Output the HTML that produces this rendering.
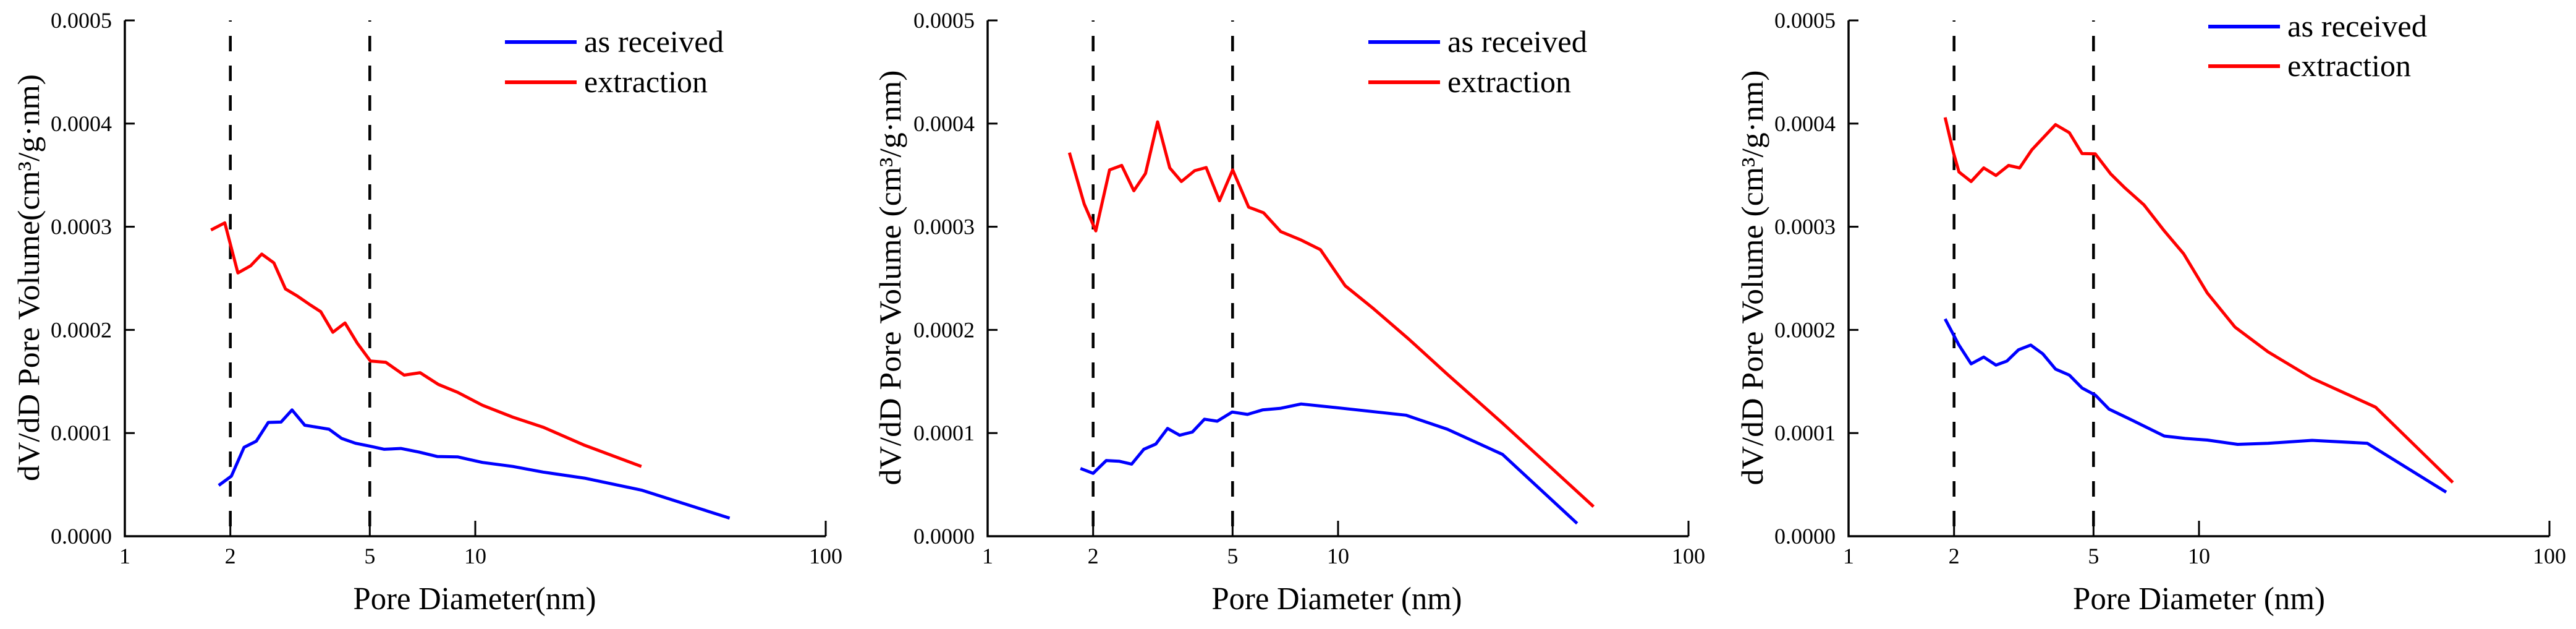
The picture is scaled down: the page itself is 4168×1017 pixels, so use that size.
<!DOCTYPE html>
<html><head><meta charset="utf-8"><style>
html,body{margin:0;padding:0;background:#fff;width:4168px;height:1017px;overflow:hidden}
text{font-family:"Liberation Serif",serif;fill:#000}
</style></head><body>
<svg id="chart" width="4168" height="1017" viewBox="0 0 4168 1017" xmlns="http://www.w3.org/2000/svg"></svg>
<script>
// ---- data (values in units of 1e-4 cm3/g·nm) ----
const p1RedX=[1.761,1.928,2.102,2.286,2.458,2.662,2.873,3.111,3.382,3.623,3.924,4.249,4.603,5.022,5.557,6.265,6.960,7.845,8.905,10.48,12.80,15.62,20.50,29.79];
const p1RedY=[2.968,3.038,2.552,2.622,2.735,2.650,2.397,2.327,2.242,2.176,1.977,2.067,1.873,1.698,1.686,1.562,1.585,1.472,1.395,1.270,1.154,1.057,0.882,0.676];
const p1BlueX=[1.853,2.014,2.189,2.371,2.567,2.791,3.000,3.262,3.532,3.825,4.157,4.552,4.985,5.497,6.131,6.910,7.788,8.905,10.48,12.80,15.62,20.50,29.79,53.2];
const p1BlueY=[0.493,0.583,0.862,0.921,1.103,1.107,1.224,1.076,1.057,1.037,0.948,0.901,0.874,0.843,0.851,0.816,0.773,0.769,0.715,0.676,0.622,0.563,0.447,0.175];
const p2RedX=[1.711,1.886,2.035,2.228,2.413,2.614,2.821,3.055,3.309,3.572,3.896,4.204,4.587,5.004,5.557,6.131,6.859,7.845,8.905,10.48,12.57,15.91,20.50,29.47,53.6];
const p2RedY=[3.718,3.221,2.960,3.551,3.594,3.349,3.516,4.017,3.570,3.438,3.543,3.574,3.252,3.551,3.190,3.135,2.953,2.871,2.778,2.428,2.211,1.911,1.570,1.096,0.287];
const p2BlueX=[1.840,2.000,2.181,2.371,2.576,2.791,3.021,3.262,3.532,3.839,4.157,4.520,4.985,5.516,6.087,6.833,7.845,10.11,15.62,20.50,29.47,48.1];
const p2BlueY=[0.657,0.610,0.734,0.727,0.699,0.843,0.894,1.045,0.979,1.010,1.134,1.115,1.204,1.181,1.224,1.239,1.282,1.243,1.173,1.037,0.793,0.124];
const p3RedX=[1.886,1.992,2.065,2.237,2.431,2.634,2.862,3.077,3.334,3.896,4.265,4.636,5.058,5.598,6.131,6.960,7.960,9.035,10.56,12.66,15.74,21.03,31.91,53.0];
const p3RedY=[4.060,3.718,3.531,3.438,3.570,3.497,3.594,3.570,3.745,3.990,3.912,3.710,3.706,3.512,3.380,3.213,2.960,2.739,2.358,2.028,1.787,1.531,1.251,0.521];
const p3BlueX=[1.886,2.065,2.237,2.431,2.634,2.831,3.055,3.309,3.584,3.896,4.265,4.636,5.058,5.537,6.355,7.960,9.134,10.56,12.89,15.74,21.03,30.22,50.76];
const p3BlueY=[2.106,1.853,1.671,1.737,1.659,1.698,1.807,1.853,1.768,1.620,1.562,1.437,1.368,1.232,1.134,0.971,0.948,0.932,0.890,0.901,0.929,0.901,0.427];
const yTicks=[0,1,2,3,4,5];
const yTickLabels=["0.0000","0.0001","0.0002","0.0003","0.0004","0.0005"];
const xTicks=[1,2,5,10,100];
const xTickLabels=["1","2","5","10","100"];
const dashX=[2,5];
const xTitles=["Pore Diameter(nm)","Pore Diameter (nm)","Pore Diameter (nm)"];
const yTitles=["dV/dD Pore Volume(cm³/g·nm)","dV/dD Pore Volume (cm³/g·nm)","dV/dD Pore Volume (cm³/g·nm)"];
const legendLabels=["as received","extraction"];

const NS="http://www.w3.org/2000/svg";
const svg=document.getElementById('chart');
function mk(tag,attrs,parent){const e=document.createElementNS(NS,tag);for(const k in attrs)e.setAttribute(k,attrs[k]);(parent||svg).appendChild(e);return e;}

const panels=[
 {ax:202,w:1134,ytitleX:46,ytitleLen:658,xtitleX:768,xtitleLen:393,legX:615,legY:[68,133],red:[p1RedX,p1RedY],blue:[p1BlueX,p1BlueY]},
 {ax:1598,w:1134,ytitleX:1440,ytitleLen:671,xtitleX:2163,xtitleLen:405,legX:616,legY:[68,133],red:[p2RedX,p2RedY],blue:[p2BlueX,p2BlueY]},
 {ax:2991,w:1134,ytitleX:2835,ytitleLen:671,xtitleX:3558,xtitleLen:408,legX:582,legY:[43,107],red:[p3RedX,p3RedY],blue:[p3BlueX,p3BlueY]}
];
const Y0=867, YTOP=33;
panels.forEach((p,i)=>{
  const g=mk('g',{});
  
  
  const xs=v=>p.ax+Math.log10(v)/2*p.w;
  const ys=v=>Y0-v/5*(Y0-YTOP);
  // dashed lines
  dashX.forEach(d=>{
    const l=mk('line',{x1:xs(d),x2:xs(d),y1:YTOP,y2:Y0,stroke:'#000','stroke-width':4.5,'stroke-dasharray':'25 23','stroke-dashoffset':23},g);
    
    
  });
  // axes
  const axes=mk('path',{d:`M${p.ax},${YTOP} V${Y0} H${p.ax+p.w}`,fill:'none',stroke:'#000','stroke-width':3.5},g);
  
  
  yTicks.forEach((t,k)=>{
    mk('line',{x1:p.ax,x2:p.ax+16,y1:ys(t),y2:ys(t),stroke:'#000','stroke-width':3},g);
    const tx=mk('text',{x:p.ax-21,y:ys(t)+12,'font-size':36,'text-anchor':'end'},g);
    tx.textContent=yTickLabels[k];
    
    
  });
  xTicks.forEach((t,k)=>{
    if(t!==1) mk('line',{x1:xs(t),x2:xs(t),y1:Y0,y2:Y0-25,stroke:'#000','stroke-width':3},g);
    const tx=mk('text',{x:xs(t),y:911,'font-size':36,'text-anchor':'middle'},g);
    tx.textContent=xTickLabels[k];
    
    
  });
  // series
  [[p.blue,'#0000ff','as-received-line'],[p.red,'#ff0000','extraction-line']].forEach(s=>{
    const [X,Y]=s[0];
    const d=X.map((x,k)=>(k?'L':'M')+xs(x).toFixed(1)+','+ys(Y[k]).toFixed(1)).join(' ');
    const pa=mk('path',{d:d,fill:'none',stroke:s[1],'stroke-width':5,'stroke-linejoin':'round'},g);
    
    
  });
  // titles
  const xt=mk('text',{x:p.xtitleX,y:985,'font-size':52,'text-anchor':'middle',textLength:p.xtitleLen,lengthAdjust:'spacingAndGlyphs'},g);
  xt.textContent=xTitles[i];
  
  
  const yt=mk('text',{x:0,y:0,'font-size':50,'text-anchor':'middle',textLength:p.ytitleLen,lengthAdjust:'spacingAndGlyphs',transform:`translate(${p.ytitleX+17},449) rotate(-90)`},g);
  yt.textContent=yTitles[i];
  
  
  // legend
  ['#0000ff','#ff0000'].forEach((c,k)=>{
    const lx=p.ax+p.legX;
    const ln=mk('line',{x1:lx,x2:lx+116,y1:p.legY[k],y2:p.legY[k],stroke:c,'stroke-width':6},g);
    
    
    const tx=mk('text',{x:lx+128,y:p.legY[k]+16,'font-size':50,textLength:k?200:226,lengthAdjust:'spacingAndGlyphs'},g);
    tx.textContent=legendLabels[k];
    
    
  });
});
</script>
</body></html>
